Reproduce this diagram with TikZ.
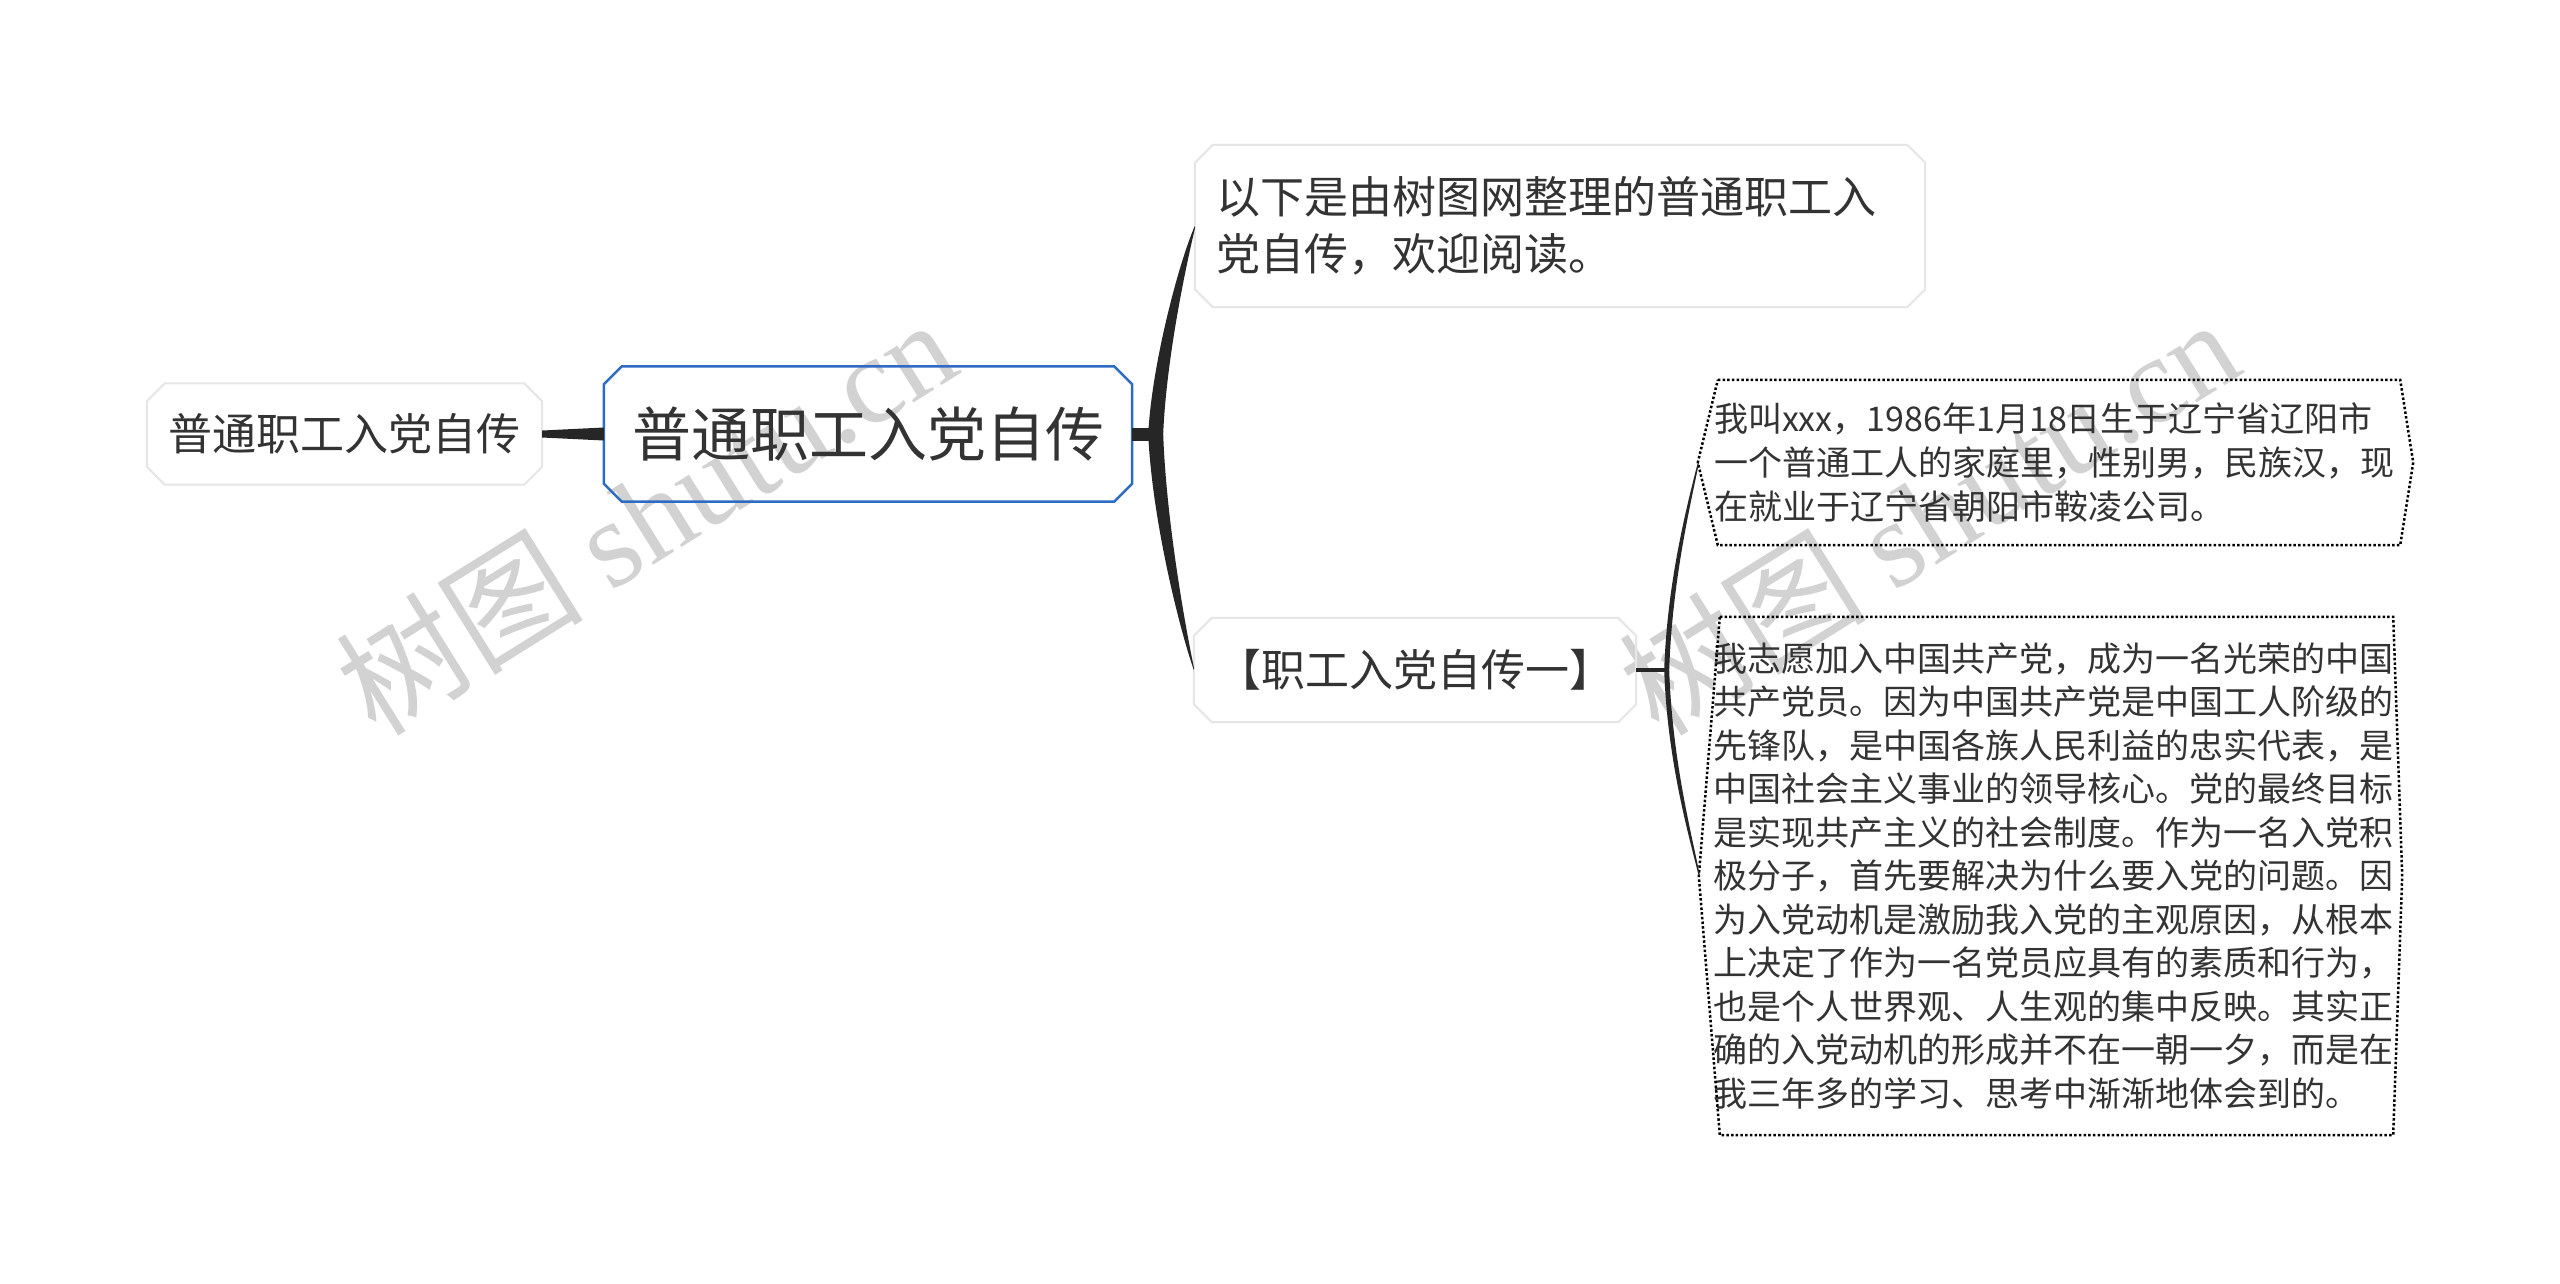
\documentclass[tikz,border=0pt]{standalone}
\usepackage{fontspec}
\setmainfont{Noto Sans CJK SC}
\newfontfamily\wmlat{Liberation Serif}
\usetikzlibrary{calc}
\definecolor{txt}{HTML}{333333}
\definecolor{rootblue}{HTML}{2D6CC2}
\definecolor{lightframe}{HTML}{E6E6E6}
\definecolor{conncol}{HTML}{262626}
\definecolor{wmgray}{HTML}{D2D2D2}
\newcommand\octframe[3]{\draw[#3] ($(#1.north west)+(#2,0)$) -- ($(#1.north east)+(-#2,0)$) -- ($(#1.north east)+(0,#2)$) -- ($(#1.south east)+(0,-#2)$) -- ($(#1.south east)+(-#2,0)$) -- ($(#1.south west)+(#2,0)$) -- ($(#1.south west)+(0,-#2)$) -- ($(#1.north west)+(0,#2)$) -- cycle;}
\newcommand\hexframe[3]{\draw[dotframe] (#1.north west) -- (#1.north east) -- ($(#1.east)+(#3,0)$) -- (#1.south east) -- (#1.south west) -- ($(#1.west)+(-#2,0)$) -- cycle;}
\tikzset{
  basebox/.style={draw=none, text=txt, inner sep=0pt},
  lightline/.style={draw=lightframe, line width=2pt},
  rootline/.style={draw=rootblue, line width=2.5pt},
  dotframe/.style={draw=black, line width=2.5pt, dash pattern=on 2.5pt off 2.2pt},
  conn/.style={fill=conncol},
  wm/.style={text=wmgray, inner sep=0pt, font=\fontsize{124}{124}\selectfont},
  smalltext/.style={font=\fontsize{34}{43.5}\selectfont, align=left},
}
\begin{document}
\begin{tikzpicture}[x=1pt,y=-1pt]
\fill[white] (0,0) rectangle (2560,1283);
\useasboundingbox (0,0) rectangle (2560,1283);
% watermarks
\node[wm, rotate=32] (wma) at (645,515) {树图 {\wmlat shutu.cn}};
\node[wm, rotate=32] (wmb) at (1928,515) {树图 {\wmlat shutu.cn}};
% nodes
\node[basebox, minimum width=395, minimum height=101, font=\fontsize{44}{52}\selectfont] (left) at (344.5,434) {普通职工入党自传};
\node[basebox, minimum width=528, minimum height=135, font=\fontsize{59}{68}\selectfont] (root) at (868,434) {普通职工入党自传};
\node[basebox, minimum width=730, minimum height=162, inner xsep=21pt, text width=688pt, align=left, font=\fontsize{44}{57}\selectfont] (top) at (1560,226) {以下是由树图网整理的普通职工入\\党自传，欢迎阅读。};
\node[basebox, minimum width=442, minimum height=104, font=\fontsize{44}{52}\selectfont] (mid) at (1415,670) {【职工入党自传一】};
\node[basebox, smalltext, font=\fontsize{34}{44}\selectfont, minimum width=682, minimum height=165, inner xsep=-4pt, text width=690pt] (b1) at (2059,462.5) {我叫xxx，1986年1月18日生于辽宁省辽阳市\\一个普通工人的家庭里，性别男，民族汉，现\\在就业于辽宁省朝阳市鞍凌公司。};
\node[basebox, smalltext, minimum width=673, minimum height=518, inner xsep=-7pt, text width=687pt] (b2) at (2056.5,876) {我志愿加入中国共产党，成为一名光荣的中国\\共产党员。因为中国共产党是中国工人阶级的\\先锋队，是中国各族人民利益的忠实代表，是\\中国社会主义事业的领导核心。党的最终目标\\是实现共产主义的社会制度。作为一名入党积\\极分子，首先要解决为什么要入党的问题。因\\为入党动机是激励我入党的主观原因，从根本\\上决定了作为一名党员应具有的素质和行为，\\也是个人世界观、人生观的集中反映。其实正\\确的入党动机的形成并不在一朝一夕，而是在\\我三年多的学习、思考中渐渐地体会到的。};
% frames
\octframe{left}{18}{lightline}
\octframe{root}{18}{rootline}
\octframe{top}{18}{lightline}
\octframe{mid}{18}{lightline}
\hexframe{b1}{20}{13}
\hexframe{b2}{21}{9}
% connectors: left
\fill[conn] ($(left.east)+(0,-3.5)$) -- ($(root.west)+(0,-6.5)$) -- ($(root.west)+(0,6.5)$) -- ($(left.east)+(0,3.5)$) -- cycle;
% connectors: root to right
\coordinate (rj) at ($(root.east)+(16,0)$);
\fill[conn] ($(root.east)+(0,-6.5)$) rectangle ($(rj)+(8,6.5)$);
\fill[conn] (rj) .. controls +(4,-73) and +(-15,34) .. (top.west) -- ($(top.west)+(0,3)$) .. controls +(-10,42) and +(3,-73) .. ($(rj)+(15,0)$) -- cycle;
\fill[conn] (rj) .. controls +(4,87) and +(-14,-40) .. (mid.west) -- ($(mid.west)+(0,-3)$) .. controls +(-8,-38) and +(3,87) .. ($(rj)+(15,0)$) -- cycle;
% connectors: mid to boxes
\coordinate (mj) at ($(mid.east)+(30,0)$);
\coordinate (t1) at ($(b1.west)+(-20,0)$);
\coordinate (t2) at ($(b2.west)+(-21,0)$);
\fill[conn] ($(mid.east)+(0,-2)$) rectangle ($(mj)+(2,2)$);
\fill[conn] ($(mj)+(-2,0)$) .. controls +(3,-90) and +(-10,40) .. (t1) -- ($(t1)+(1,1)$) .. controls +(-8,40) and +(3,-90) .. ($(mj)+(3,0)$) -- cycle;
\fill[conn] ($(mj)+(-2,0)$) .. controls +(3,90) and +(-10,-40) .. (t2) -- ($(t2)+(1,-1)$) .. controls +(-8,-40) and +(3,90) .. ($(mj)+(3,0)$) -- cycle;
\end{tikzpicture}
\end{document}
